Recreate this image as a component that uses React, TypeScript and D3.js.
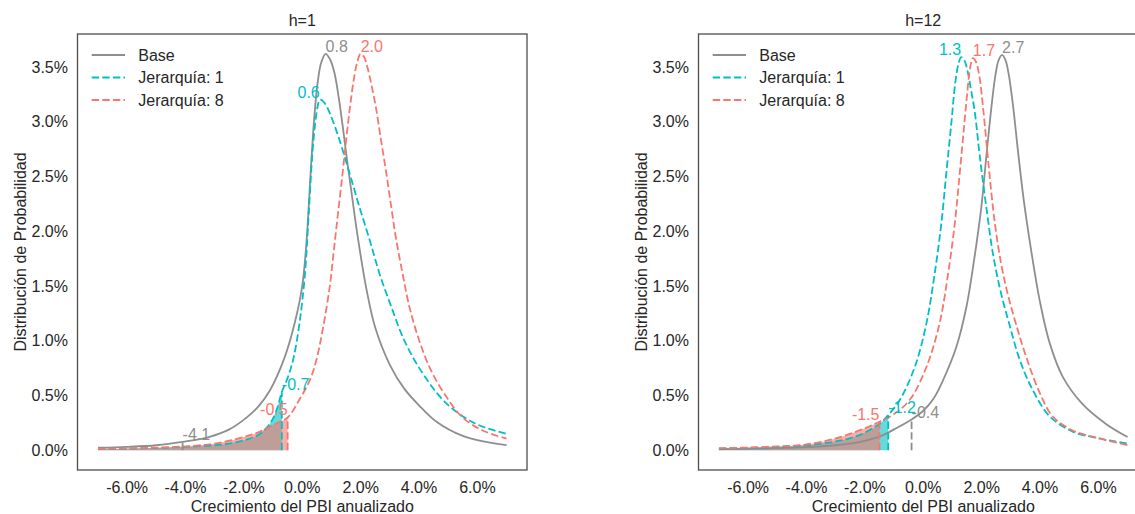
import React from 'react';
import * as d3 from 'd3';

type Pt = [number, number];

// Axis ticks (percent units)
const xTicks = [-6, -4, -2, 0, 2, 4, 6];
const yTicks = [0, 0.5, 1, 1.5, 2, 2.5, 3, 3.5];
const seriesNames = ['Base', 'Jerarquía: 1', 'Jerarquía: 8'];
const panelTitles = ['h=1', 'h=12'];

// h=1: density of annualised GDP growth (x in %, y in %)
const h1Base: Pt[] = [
  [-7, 0.022], [-6, 0.03], [-5, 0.045], [-4.1, 0.076], [-3.2, 0.12], [-2.5, 0.19],
  [-1.9, 0.3], [-1.5, 0.4], [-1.1, 0.55], [-0.6, 0.85], [-0.25, 1.17], [0, 1.5],
  [0.15, 1.92], [0.28, 2.5], [0.4, 3.0], [0.52, 3.34], [0.65, 3.54], [0.8, 3.62],
  [0.95, 3.57], [1.1, 3.45], [1.25, 3.22], [1.4, 2.93], [1.55, 2.62], [1.7, 2.33],
  [1.9, 1.95], [2.2, 1.47], [2.5, 1.12], [3.0, 0.78], [3.5, 0.56], [4.0, 0.41],
  [4.6, 0.26], [5.5, 0.13], [6.2, 0.08], [7, 0.046],
];
const h1Jer1: Pt[] = [
  [-7, 0.01], [-6, 0.014], [-5, 0.02], [-4, 0.03], [-3, 0.045], [-2.5, 0.06],
  [-2, 0.09], [-1.5, 0.14], [-1.2, 0.21], [-1.0, 0.29], [-0.85, 0.39], [-0.7, 0.53],
  [-0.5, 0.66], [-0.3, 0.84], [-0.1, 1.15], [0.09, 1.6], [0.23, 2.2], [0.35, 2.72],
  [0.45, 3.0], [0.52, 3.13], [0.6, 3.2], [0.7, 3.19], [0.8, 3.16], [0.94, 3.08],
  [1.1, 2.97], [1.28, 2.83], [1.62, 2.53], [1.96, 2.22], [2.31, 1.92], [2.65, 1.61],
  [3.05, 1.31], [3.5, 1.0], [4.13, 0.7], [4.93, 0.43], [5.95, 0.24], [7, 0.15],
];
const h1Jer8: Pt[] = [
  [-7, 0.012], [-6, 0.016], [-5, 0.023], [-4, 0.035], [-3, 0.06], [-2, 0.12],
  [-1.45, 0.17], [-1.0, 0.23], [-0.5, 0.3], [-0.1, 0.46], [0.26, 0.64], [0.48, 0.82],
  [0.7, 1.1], [0.94, 1.49], [1.08, 1.82], [1.22, 2.15], [1.37, 2.5], [1.49, 2.8],
  [1.62, 3.1], [1.75, 3.36], [1.87, 3.53], [2.0, 3.62], [2.12, 3.59], [2.24, 3.49],
  [2.36, 3.35], [2.53, 3.12], [2.7, 2.83], [2.88, 2.53], [3.05, 2.22], [3.22, 1.92],
  [3.44, 1.61], [3.67, 1.31], [4.01, 1.0], [4.41, 0.73], [4.93, 0.49], [5.49, 0.3],
  [6.18, 0.18], [7, 0.105],
];
const h1Modes = [0.8, 0.6, 2.0];
const h1Quantiles = [-4.1, -0.7, -0.5];

// h=12
const h12Base: Pt[] = [
  [-7, 0.01], [-6, 0.013], [-5, 0.018], [-4, 0.027], [-3, 0.045], [-2.5, 0.06],
  [-2, 0.085], [-1.4, 0.135], [-1.0, 0.19], [-0.4, 0.28], [0, 0.36], [0.35, 0.47],
  [0.68, 0.64], [1.13, 0.94], [1.48, 1.31], [1.76, 1.77], [1.99, 2.22], [2.16, 2.68],
  [2.33, 3.12], [2.47, 3.42], [2.58, 3.56], [2.7, 3.61], [2.82, 3.56], [2.93, 3.43],
  [3.07, 3.16], [3.25, 2.72], [3.45, 2.27], [3.7, 1.82], [3.98, 1.38], [4.33, 0.98],
  [4.78, 0.67], [5.46, 0.42], [6.26, 0.24], [7, 0.12],
];
const h12Jer1: Pt[] = [
  [-7, 0.015], [-6, 0.02], [-5, 0.03], [-4, 0.045], [-3, 0.08], [-2.5, 0.11],
  [-2, 0.16], [-1.5, 0.24], [-1.2, 0.32], [-0.8, 0.46], [-0.29, 0.76], [0.11, 1.16],
  [0.39, 1.61], [0.62, 2.07], [0.79, 2.53], [0.96, 2.98], [1.09, 3.34], [1.2, 3.52],
  [1.3, 3.59], [1.41, 3.56], [1.52, 3.46], [1.63, 3.3], [1.76, 3.1], [1.93, 2.7],
  [2.16, 2.22], [2.39, 1.79], [2.65, 1.45], [2.96, 1.14], [3.3, 0.83], [3.75, 0.55],
  [4.33, 0.31], [5.12, 0.17], [6.03, 0.107], [7, 0.06],
];
const h12Jer8: Pt[] = [
  [-7, 0.018], [-6, 0.024], [-5, 0.035], [-4.2, 0.046], [-3.1, 0.1], [-2, 0.2],
  [-1.5, 0.26], [-1.0, 0.33], [-0.46, 0.46], [0.11, 0.76], [0.56, 1.16], [0.85, 1.61],
  [1.08, 2.07], [1.25, 2.53], [1.4, 2.96], [1.52, 3.3], [1.61, 3.5], [1.7, 3.58],
  [1.8, 3.55], [1.92, 3.42], [2.06, 3.1], [2.24, 2.6], [2.44, 2.1], [2.67, 1.7],
  [2.9, 1.42], [3.18, 1.15], [3.53, 0.85], [3.98, 0.53], [4.43, 0.31], [5.12, 0.18],
  [6.03, 0.107], [7, 0.046],
];
const h12Modes = [2.7, 1.3, 1.7];
const h12Quantiles = [-0.4, -1.2, -1.5];

const W = 1135;
const H = 514;
const FONT = '"Liberation Sans", Arial, sans-serif';
const TEXT = '#262626';
const COLORS = ['#8e8e8e', '#00BFC4', '#F8766D'];
const DASH = [null, '7.4 3.2', '7.4 3.2'];
// label anchors: [at mode, at quantile]
const ANCHORS: ['start' | 'end', 'start' | 'end'][] = [
  ['start', 'start'],
  ['end', 'start'],
  ['start', 'end'],
];

const panels = [
  { title: panelTitles[0], x0: 77.5, x1: 527, series: [h1Base, h1Jer1, h1Jer8], modes: h1Modes, quantiles: h1Quantiles },
  { title: panelTitles[1], x0: 698.5, x1: 1148, series: [h12Base, h12Jer1, h12Jer8], modes: h12Modes, quantiles: h12Quantiles },
];

const TOP = 34;
const BOTTOM = 470;

const fmt = (v: number) => v.toFixed(1);

function valueAt(data: Pt[], x: number): number {
  for (let i = 0; i < data.length - 1; i++) {
    const [xa, ya] = data[i];
    const [xb, yb] = data[i + 1];
    if (x >= xa && x <= xb) return ya + ((yb - ya) * (x - xa)) / (xb - xa);
  }
  return data[data.length - 1][1];
}

function Panel({ p, idx }: { p: (typeof panels)[number]; idx: number }) {
  const x = d3.scaleLinear().domain([-7.7, 7.7]).range([p.x0, p.x1]);
  const y = d3.scaleLinear().domain([-0.181, 3.801]).range([BOTTOM, TOP]);
  const curve = d3.curveCatmullRom.alpha(0.5);
  const line = d3.line<Pt>().x((d) => x(d[0])).y((d) => y(d[1])).curve(curve);
  const area = d3
    .area<Pt>()
    .x((d) => x(d[0]))
    .y0(y(0))
    .y1((d) => y(d[1]))
    .curve(curve);
  const cx = (p.x0 + p.x1) / 2;
  const cy = (TOP + BOTTOM) / 2;

  return (
    <g>
      <defs>
        {p.series.map((s, i) => (
          <clipPath key={i} id={`q-${idx}-${i}`}>
            <rect x={x(s[0][0]) - 1} y={TOP} width={x(p.quantiles[i]) - x(s[0][0]) + 1} height={BOTTOM - TOP} />
          </clipPath>
        ))}
      </defs>
      <text x={cx} y={26} textAnchor="middle" fontSize={16} fill={TEXT}>{p.title}</text>
      {/* y ticks */}
      {yTicks.map((t) => (
        <text key={t} x={p.x0 - 9.5} y={y(t) + 5.6} textAnchor="end" fontSize={16} fill={TEXT}>
          {fmt(t)}%
        </text>
      ))}
      {/* x ticks */}
      {xTicks.map((t) => (
        <text key={t} x={x(t)} y={493} textAnchor="middle" fontSize={16} fill={TEXT}>
          {fmt(t)}%
        </text>
      ))}
      <text x={cx} y={512} textAnchor="middle" fontSize={16} fill={TEXT}>Crecimiento del PBI anualizado</text>
      <text
        transform={`translate(${p.x0 - 52},${cy}) rotate(-90)`}
        textAnchor="middle"
        fontSize={16}
        fill={TEXT}
      >
        Distribución de Probabilidad
      </text>

      {/* lower-tail shading for the hierarchy scenarios */}
      {p.series.map((s, i) =>
        i === 0 ? null : (
          <path key={`a${i}`} d={area(s) || ''} fill={COLORS[i]} fillOpacity={0.6} clipPath={`url(#q-${idx}-${i})`} />
        ),
      )}

      {/* density curves */}
      {p.series.map((s, i) => (
        <path
          key={`l${i}`}
          d={line(s) || ''}
          fill="none"
          stroke={COLORS[i]}
          strokeWidth={1.8}
          strokeDasharray={DASH[i] || undefined}
        />
      ))}

      {/* quantile markers */}
      {p.series.map((s, i) => {
        const q = p.quantiles[i];
        const v = valueAt(s, q);
        return (
          <g key={`q${i}`}>
            <line x1={x(q)} x2={x(q)} y1={y(0)} y2={y(v)} stroke={COLORS[i]} strokeWidth={1.8} strokeDasharray="7.4 3.2" />
            <text x={x(q)} y={y(v) - 2} textAnchor={ANCHORS[i][1]} fontSize={16} fill={COLORS[i]}>
              {fmt(q)}
            </text>
          </g>
        );
      })}

      {/* mode labels */}
      {p.series.map((s, i) => {
        const m = p.modes[i];
        const v = valueAt(s, m);
        return (
          <text key={`m${i}`} x={x(m)} y={y(v) - 2} textAnchor={ANCHORS[i][0]} fontSize={16} fill={COLORS[i]}>
            {fmt(m)}
          </text>
        );
      })}

      {/* legend */}
      {seriesNames.map((n, i) => (
        <g key={n}>
          <line
            x1={p.x0 + 14.2}
            x2={p.x0 + 47.5}
            y1={55 + i * 22.5}
            y2={55 + i * 22.5}
            stroke={COLORS[i]}
            strokeWidth={1.8}
            strokeDasharray={DASH[i] || undefined}
          />
          <text x={p.x0 + 60.8} y={55 + i * 22.5 + 5.6} fontSize={16} fill={TEXT}>
            {n}
          </text>
        </g>
      ))}

      <rect x={p.x0} y={TOP} width={p.x1 - p.x0} height={BOTTOM - TOP} fill="none" stroke="#4d4d4d" strokeWidth={1.3} />
    </g>
  );
}

export default function App() {
  return (
    <svg
      width={W}
      height={H}
      viewBox={`0 0 ${W} ${H}`}
      style={{ position: 'absolute', left: 0, top: 0, background: '#fff', fontFamily: FONT }}
    >
      <rect width={W} height={H} fill="#fff" />
      {panels.map((p, i) => (
        <Panel key={p.title} p={p} idx={i} />
      ))}
    </svg>
  );
}
